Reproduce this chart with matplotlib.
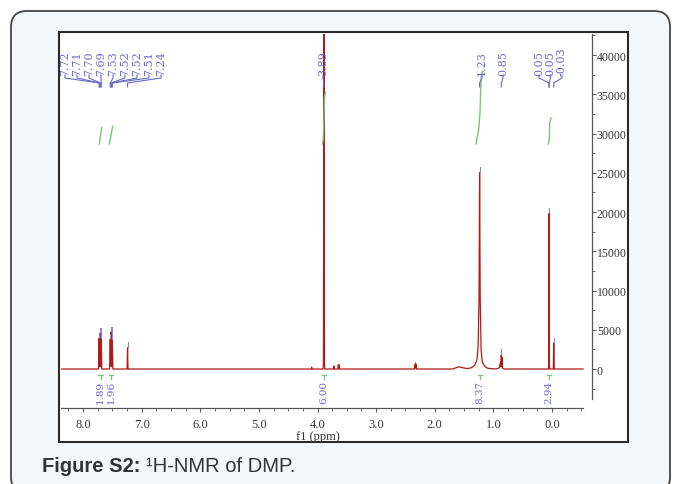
import matplotlib
matplotlib.use("Agg")
import matplotlib.pyplot as plt
from matplotlib.patches import FancyBboxPatch, Rectangle
from matplotlib.ticker import MultipleLocator

W, H = 673, 485

# ---------------- data ----------------
# 1H-NMR spectrum vertices (ppm, intensity)
spec_ppm = [8.375, 7.735, 7.725, 7.718, 7.712, 7.706, 7.700, 7.694, 7.688, 7.680,
            7.545, 7.535, 7.529, 7.523, 7.517, 7.512, 7.506, 7.500, 7.490,
            7.248, 7.240, 7.232,
            4.105, 4.100, 4.095,
            3.905, 3.898, 3.890, 3.882, 3.875,
            3.725, 3.720, 3.715, 3.650, 3.645, 3.640, 3.635, 3.630,
            2.345, 2.338, 2.333, 2.328, 2.323, 2.318, 2.310,
            1.70, 1.62, 1.58, 1.52, 1.45, 1.38, 1.32, 1.28, 1.26, 1.245, 1.235, 1.225, 1.21, 1.19, 1.15, 1.10,
            0.96, 0.90, 0.878, 0.872, 0.865, 0.858, 0.852, 0.845, 0.82,
            0.060, 0.055, 0.050, 0.045, 0.040,
            -0.022, -0.030, -0.038, -0.53]
spec_int = [0, 0, 3900, 300, 4550, 500, 4500, 300, 3800, 0,
            0, 3800, 400, 4700, 500, 4600, 300, 3700, 0,
            0, 2700, 0,
            0, 250, 0,
            0, 800, 60000, 800, 0,
            0, 380, 0, 0, 500, 150, 550, 0,
            0, 500, 150, 760, 150, 550, 0,
            0, 200, 280, 150, 60, 150, 450, 1200, 3000, 9000, 25000, 9000, 2500, 900, 350, 100,
            0, 150, 900, 300, 1800, 400, 1500, 100, 0,
            0, 600, 19800, 600, 0,
            0, 3300, 0, 0]

# picked peaks
peak_labels = ["7.72", "7.71", "7.70", "7.69", "7.53", "7.52", "7.52", "7.51", "7.24",
               "3.89", "1.23", "0.85", "0.05", "0.05", "-0.03"]
peak_ppm = [7.725, 7.712, 7.700, 7.688, 7.535, 7.523, 7.512, 7.500, 7.240,
            3.890, 1.235, 0.865, 0.050, 0.050, -0.030]
peak_top = [3900, 4550, 4500, 3800, 3800, 4700, 4600, 3700, 2700,
            60000, 25000, 1800, 19800, 19800, 3300]
label_px = [65, 77, 89, 101, 113, 125, 137, 149, 161,
            323, 482, 503, 539, 550.5, 562]

# integrals
integral_values = ["1.89", "1.96", "6.00", "8.37", "2.94"]
integral_center = [7.70, 7.52, 3.89, 1.23, 0.05]
integral_ppm = [[7.722, 7.681],
                [7.551, 7.493],
                [3.915, 3.900, 3.880, 3.864],
                [1.296, 1.250, 1.228, 1.216, 1.206, 1.190, 1.172],
                [0.063, 0.046, 0.039, 0.022, 0.012]]
integral_int = [[28665, 30790],
                [28665, 30920],
                [28665, 29400, 34600, 35280],
                [28665, 30576, 32700, 35680, 37370, 37900, 37880],
                [28665, 29300, 31430, 31850, 31940]]

x_ticks = [8.0, 7.0, 6.0, 5.0, 4.0, 3.0, 2.0, 1.0, 0.0]
x_tick_labels = ["8.0", "7.0", "6.0", "5.0", "4.0", "3.0", "2.0", "1.0", "0.0"]
y_ticks = [0, 5000, 10000, 15000, 20000, 25000, 30000, 35000, 40000]
y_tick_labels = ["0", "5000", "10000", "15000", "20000", "25000", "30000", "35000", "40000"]

# ---------------- layout ----------------
XL, XR = 8.375, -0.682
YB, YT = -4968, 42680
AX_L, AX_R, AX_T, AX_B = 61, 592, 35, 409

def px2ppm(px):
    return XL + (px - AX_L) / (AX_R - AX_L) * (XR - XL)

def py2int(py):
    return YB + (AX_B - py) / (AX_B - AX_T) * (YT - YB)

SERIF = ["Liberation Serif", "DejaVu Serif"]
LSERIF = ["DejaVu Serif"]
LBL = "#6a6ac6"
GRN = "#7cc47c"
RED = "#b01a1a"

fig = plt.figure(figsize=(W / 100, H / 100), dpi=100, facecolor="white")

bg = fig.add_axes([0, 0, 1, 1])
bg.set_xlim(0, W)
bg.set_ylim(H, 0)
bg.axis("off")
bg.add_patch(FancyBboxPatch((11, 12), 659, 482, boxstyle="round,pad=0,rounding_size=16",
                            fc="#f3f7fa", ec="#454545", lw=1.3))
bg.add_patch(Rectangle((59, 33), 569, 410, fc="white", ec="#2a2a2a", lw=1.5))

t1 = bg.text(42, 467, "Figure S2:", fontsize=14.5, fontweight="bold", color="#333333",
             family=["Liberation Sans", "DejaVu Sans"], va="center", ha="left")
fig.canvas.draw()
bb = t1.get_window_extent()
bg.text(bb.x1 + 5, 467, "\u00b9H-NMR of DMP.", fontsize=14.5, color="#333333",
        family=["Liberation Sans", "DejaVu Sans"], va="center", ha="left")

ax = fig.add_axes([AX_L / W, 1 - AX_B / H, (AX_R - AX_L) / W, (AX_B - AX_T) / H])
ax.patch.set_visible(False)
ax.set_xlim(XL, XR)
ax.set_ylim(YB, YT)

ax.plot(spec_ppm, spec_int, color=RED, lw=0.9, zorder=3)

# integrals
for xs, ys in zip(integral_ppm, integral_int):
    ax.plot(xs, ys, color=GRN, lw=1.0, zorder=4)

# integral labels below the baseline
for val, c in zip(integral_values, integral_center):
    ax.text(c, py2int(404), val, rotation=90, ha="center", va="bottom",
            fontsize=7.5, color=LBL, family=LSERIF, zorder=5)
    ax.plot([c + 0.04, c - 0.04], [py2int(376), py2int(376)], color=GRN, lw=0.9, clip_on=False)
    ax.plot([c, c], [py2int(376), py2int(380)], color=GRN, lw=0.9, clip_on=False)

# peak labels and connectors
for lab, p, top, lx in zip(peak_labels, peak_ppm, peak_top, label_px):
    x_lab = px2ppm(lx)
    ax.text(x_lab, py2int(76), lab, rotation=90, ha="center", va="bottom",
            fontsize=8, color=LBL, family=LSERIF, zorder=5)
    ax.plot([x_lab, x_lab, p, p], [py2int(76), py2int(79), py2int(84), py2int(88)],
            color=LBL, lw=0.8, clip_on=False, zorder=5)
    if top < 30000:
        ax.plot([p, p], [top + 150, top + 700], color="#8a8ad0", lw=0.8, zorder=4)

# axes styling
for s in ["left", "top"]:
    ax.spines[s].set_visible(False)
ax.spines["bottom"].set_bounds(8.375, -0.53)
ax.spines["right"].set_bounds(-3822, YT)
for s in ["bottom", "right"]:
    ax.spines[s].set_color("#555555")
    ax.spines[s].set_linewidth(0.9)

ax.yaxis.tick_right()
ax.set_yticks(y_ticks)
ax.set_yticklabels(y_tick_labels)
ax.yaxis.set_minor_locator(MultipleLocator(2500))
ax.tick_params(axis="y", which="major", direction="out", length=3, width=0.7,
               pad=0.5, labelsize=8.5, colors="#555555", labelcolor="#333333")
ax.tick_params(axis="y", which="minor", direction="out", length=2, width=0.6, colors="#555555")

ax.set_xticks(x_ticks)
ax.set_xticklabels(x_tick_labels)
ax.xaxis.set_minor_locator(MultipleLocator(0.25))
ax.tick_params(axis="x", which="major", direction="out", length=3, width=0.7,
               pad=4, labelsize=9, colors="#555555", labelcolor="#333333")
ax.tick_params(axis="x", which="minor", direction="out", length=2, width=0.6, colors="#555555")
for t in ax.get_xticklabels() + ax.get_yticklabels():
    t.set_family(SERIF)

bg.text(318, 437, "f1 (ppm)", fontsize=9, color="#333333", family=SERIF,
        ha="center", va="center")

fig.savefig("out.png", dpi=100, facecolor="white")
